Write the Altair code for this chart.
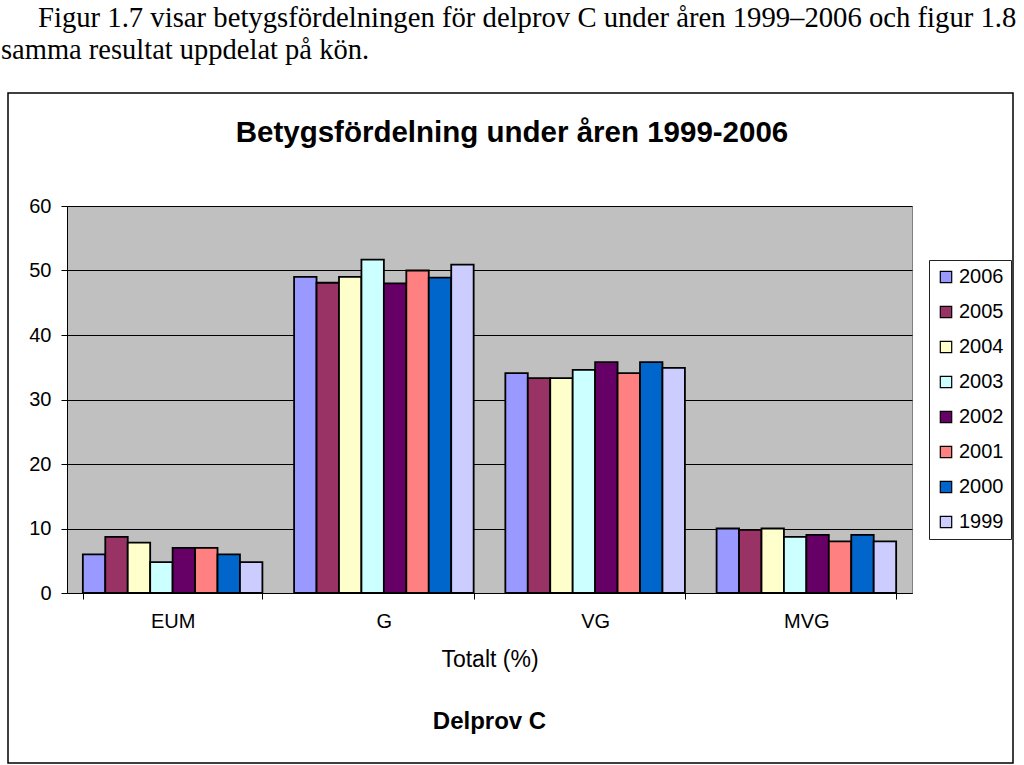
import altair as alt
import pandas as pd

# ---- data ----
grades = ["EUM", "G", "VG", "MVG"]
years = ["2006", "2005", "2004", "2003", "2002", "2001", "2000", "1999"]
colors = ["#9999FF", "#993366", "#FFFFCC", "#CCFFFF", "#660066", "#FF8080", "#0066CC", "#CCCCFF"]

v2006 = [6.0, 49.0, 34.1, 10.0]
v2005 = [8.7, 48.1, 33.3, 9.8]
v2004 = [7.8, 49.0, 33.3, 10.0]
v2003 = [4.8, 51.7, 34.6, 8.7]
v2002 = [7.0, 48.0, 35.8, 9.0]
v2001 = [7.0, 50.0, 34.1, 8.0]
v2000 = [6.0, 48.9, 35.8, 9.0]
v1999 = [4.8, 50.9, 34.9, 8.0]

y_ticks = [0, 10, 20, 30, 40, 50, 60]

intro_line1 = "Figur 1.7 visar betygsfördelningen för delprov C under åren 1999–2006 och figur 1.8"
intro_line2 = "samma resultat uppdelat på kön."
chart_title = "Betygsfördelning under åren 1999-2006"
x_title = "Totalt (%)"
sub_title = "Delprov C"

series = [v2006, v2005, v2004, v2003, v2002, v2001, v2000, v1999]
rows = []
for yr, vals in zip(years, series):
    for g, v in zip(grades, vals):
        rows.append({"grade": g, "year": yr, "value": v})
df = pd.DataFrame(rows)

PLOT_L, PLOT_T, PLOT_R, PLOT_B = 67, 206, 912, 593
W = PLOT_R - PLOT_L
H = PLOT_B - PLOT_T

SANS = "Liberation Sans"
SERIF = "Liberation Serif"

bars = alt.Chart(df).mark_bar(stroke="black", strokeWidth=1.8).encode(
    x=alt.X(
        "grade:N",
        sort=grades,
        scale=alt.Scale(paddingInner=0.15, paddingOuter=0.075),
        axis=alt.Axis(
            title=x_title,
            titleFont=SANS,
            titleFontSize=23,
            titleFontWeight="normal",
            titleColor="black",
            titlePadding=17,
            labelFont=SANS,
            labelFontSize=20,
            labelColor="black",
            labelAngle=0,
            labelPadding=12,
            tickBand="extent",
            tickSize=6,
            tickColor="black",
            domainColor="black",
            domainWidth=1,
            grid=False,
        ),
    ),
    xOffset=alt.XOffset("year:N", sort=years, scale=alt.Scale(paddingInner=0, paddingOuter=0)),
    y=alt.Y(
        "value:Q",
        scale=alt.Scale(domain=[0, 60], nice=False),
        axis=alt.Axis(
            title=None,
            values=y_ticks,
            labelFont=SANS,
            labelFontSize=20,
            labelColor="black",
            labelPadding=10,
            tickSize=6,
            tickColor="black",
            domainColor="black",
            grid=True,
            gridColor="black",
            gridWidth=1,
            gridOpacity=1,
        ),
    ),
    color=alt.Color(
        "year:N",
        sort=years,
        scale=alt.Scale(domain=years, range=colors),
        legend=alt.Legend(
            title=None,
            orient="none",
            legendX=929 - PLOT_L,
            legendY=260 - PLOT_T,
            fillColor="white",
            strokeColor="#222222",
            padding=7,
            rowPadding=15,
            symbolType="square",
            symbolSize=130,
            symbolStrokeColor="black",
            symbolStrokeWidth=1.2,
            symbolOpacity=1,
            labelFont=SANS,
            labelFontSize=20,
            labelColor="black",
            labelOffset=3,
        ),
    ),
)

one = pd.DataFrame({"k": [0]})

border = alt.Chart(one).mark_rect(fill=None, stroke="black", strokeWidth=1.5).encode(
    x=alt.value(8 - PLOT_L),
    x2=alt.value(1013 - PLOT_L),
    y=alt.value(93 - PLOT_T),
    y2=alt.value(763 - PLOT_T),
)

def txt(s, x, y, size, font, weight="normal", align="center"):
    return alt.Chart(one).mark_text(
        text=s, font=font, fontSize=size, fontWeight=weight, align=align,
        baseline="middle", color="black",
    ).encode(x=alt.value(x), y=alt.value(y))

line1 = txt(intro_line1, 38 - PLOT_L, 18 - PLOT_T, 28.7, SERIF, align="left")
line2 = txt(intro_line2, 1 - PLOT_L, 50 - PLOT_T, 28.5, SERIF, align="left")
title = txt(chart_title, 512 - PLOT_L, 133 - PLOT_T, 29.5, SANS, weight="bold")
sub = txt(sub_title, W / 2, 722 - PLOT_T, 24, SANS, weight="bold")

chart = alt.layer(border, bars, line1, line2, title, sub).properties(
    width=W,
    height=H,
    autosize=alt.AutoSizeParams(type="none"),
    padding={"left": PLOT_L, "top": PLOT_T, "right": 1024 - PLOT_R, "bottom": 765 - PLOT_B},
    background="white",
).configure_view(fill="#C0C0C0", stroke="#808080", strokeWidth=1)

chart.save("out.html", embed_options={"renderer": "svg", "actions": False})
